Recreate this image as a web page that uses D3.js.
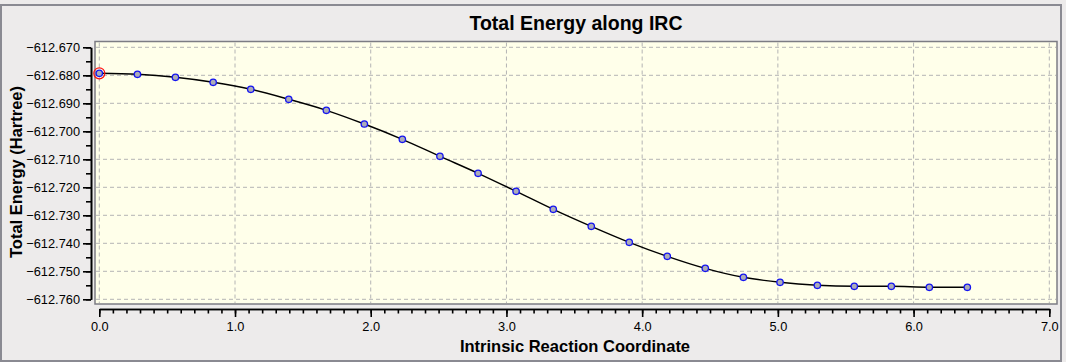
<!DOCTYPE html>
<html>
<head>
<meta charset="utf-8">
<script src="https://cdn.jsdelivr.net/npm/d3@7"></script>
<style>
  html, body { margin: 0; padding: 0; background: #edebeb; }
  svg { display: block; }
  text { font-family: "Liberation Sans", Arial, sans-serif; fill: #000; }
</style>
</head>
<body>
<svg id="chart" width="1066" height="362"></svg>
<script>
// IRC points
var coords = [0.000, 0.281, 0.561, 0.839, 1.116, 1.396, 1.673, 1.953, 2.233, 2.510, 2.791, 3.071,
  3.345, 3.625, 3.905, 4.185, 4.465, 4.746, 5.016, 5.291, 5.563, 5.836, 6.116, 6.396];
var energies = [-612.67929, -612.67964, -612.68071, -612.68250, -612.68500, -612.68857, -612.69250,
  -612.69739, -612.70286, -612.70893, -612.71500, -612.72143, -612.72786, -612.73393, -612.73964,
  -612.74464, -612.74893, -612.75214, -612.75393, -612.75500, -612.75536, -612.75536, -612.75571, -612.75571];
var xTicks = [0, 1, 2, 3, 4, 5, 6, 7];
var yTicks = [-612.670, -612.680, -612.690, -612.700, -612.710, -612.720, -612.730, -612.740, -612.750, -612.760];

var svg = d3.select("#chart");

// outer frame
svg.append("rect").attr("x", 1).attr("y", 5).attr("width", 1060).attr("height", 356)
  .attr("fill", "#edebeb").attr("stroke", "#8a8a92").attr("stroke-width", 2);

var x = d3.scaleLinear().domain([0, 7]).range([99.3, 1049.3]);
var y = d3.scaleLinear().domain([-612.760, -612.670]).range([299.3, 47.3]);

// plot area
svg.append("rect").attr("x", 95).attr("y", 41.5).attr("width", 962).attr("height", 262.5)
  .attr("fill", "#ffffea").attr("stroke", "#7c7c84").attr("stroke-width", 1.5);

// grid
svg.append("g").selectAll("line").data(xTicks).enter().append("line")
  .attr("x1", function(d) { return x(d); }).attr("x2", function(d) { return x(d); })
  .attr("y1", 42.5).attr("y2", 303)
  .attr("stroke", "#b4b4b4").attr("stroke-dasharray", "4,3");
svg.append("g").selectAll("line").data(yTicks).enter().append("line")
  .attr("y1", function(d) { return y(d); }).attr("y2", function(d) { return y(d); })
  .attr("x1", 96).attr("x2", 1056)
  .attr("stroke", "#b4b4b4").attr("stroke-dasharray", "4,3");

// axes
var yMinor = d3.range(-612.760, -612.6699, 0.005);
var xMinor = d3.range(0, 7.001, 0.1);

svg.append("g").attr("transform", "translate(91,0)")
  .call(d3.axisLeft(y).tickValues(yTicks).tickFormat(d3.format(".3f")).tickSize(8).tickSizeOuter(0).tickPadding(3));
svg.append("g").attr("transform", "translate(91,0)")
  .call(d3.axisLeft(y).tickValues(yMinor).tickFormat("").tickSize(5).tickSizeOuter(0));

svg.append("g").attr("transform", "translate(0,309)")
  .call(d3.axisBottom(x).tickValues(xTicks).tickFormat(d3.format(".1f")).tickSize(8).tickSizeOuter(0).tickPadding(5));
svg.append("g").attr("transform", "translate(0,309)")
  .call(d3.axisBottom(x).tickValues(xMinor).tickFormat("").tickSize(4.5).tickSizeOuter(0));

svg.selectAll(".domain, .tick line").attr("stroke", "#000").attr("stroke-width", 1.6);
svg.selectAll(".tick text").attr("font-size", "12.8px").attr("fill", "#000")
  .style("font-family", "'Liberation Sans', Arial, sans-serif");

// curve
var pts = coords.map(function(c, i) { return [c, energies[i]]; });
var line = d3.line().x(function(d) { return x(d[0]); }).y(function(d) { return y(d[1]); })
  .curve(d3.curveMonotoneX);
svg.append("path").datum(pts).attr("d", line)
  .attr("fill", "none").attr("stroke", "#000").attr("stroke-width", 1.4);

svg.append("g").selectAll("circle").data(pts).enter().append("circle")
  .attr("cx", function(d) { return x(d[0]); })
  .attr("cy", function(d) { return y(d[1]); })
  .attr("r", 3.2)
  .attr("fill", "#acacb8").attr("stroke", "#1414f0").attr("stroke-width", 1.3);

// current point marker
svg.append("circle").attr("cx", x(pts[0][0])).attr("cy", y(pts[0][1])).attr("r", 5.5)
  .attr("fill", "none").attr("stroke", "#ff1010").attr("stroke-width", 1.2);

// titles
svg.append("text").attr("x", 576).attr("y", 30).attr("text-anchor", "middle")
  .attr("font-size", "19.5px").attr("font-weight", "bold").text("Total Energy along IRC");
svg.append("text").attr("x", 575).attr("y", 352).attr("text-anchor", "middle")
  .attr("font-size", "16.5px").attr("font-weight", "bold").text("Intrinsic Reaction Coordinate");
svg.append("text").attr("transform", "translate(22,172) rotate(-90)").attr("text-anchor", "middle")
  .attr("font-size", "16.5px").attr("font-weight", "bold").text("Total Energy (Hartree)");
</script>
</body>
</html>
